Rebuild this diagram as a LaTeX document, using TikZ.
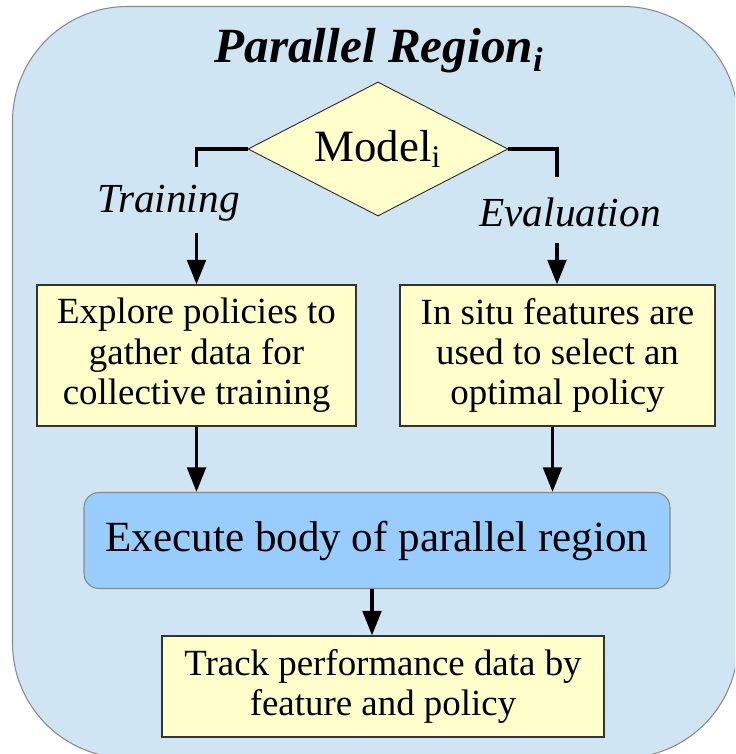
\documentclass[tikz,border=0pt]{standalone}
\usepackage{fontspec}
\setmainfont{Liberation Serif}
\usetikzlibrary{arrows.meta,positioning,calc,shapes.geometric}
\definecolor{regblue}{HTML}{CFE5F3}
\definecolor{stepyel}{HTML}{FFFFCC}
\definecolor{execblue}{HTML}{99CCFF}
\definecolor{rimgray}{HTML}{8A8A8A}

\begin{document}
\begin{tikzpicture}[
  box/.style={
    draw=black!80, line width=0.6pt, fill=stepyel,
    font=\fontsize{21}{23}\selectfont, align=center,
    minimum height=2.82cm, inner sep=0pt
  },
  choice/.style={
    diamond, aspect=2, draw=black!85, line width=0.5pt, fill=stepyel,
    minimum width=5.2cm, minimum height=2.68cm, inner sep=0pt,
    font=\fontsize{25.5}{28}\selectfont
  },
  label/.style={font=\fontsize{23.5}{25}\selectfont\itshape},
  link/.style={line width=2.2pt},
  arrow/.style={-{Triangle[length=14pt, width=10.5pt]}, line width=2.2pt},
]
  \useasboundingbox (0,0) rectangle (14.7,-15.08);
  \clip (0,0) rectangle (14.7,-15.08);

  % Region frame
  \draw[rimgray, fill=regblue, line width=0.6pt, rounded corners=2.3cm]
    (0.25,-0.13) rectangle (14.76,-15.16);
  \node[font=\fontsize{28}{30}\selectfont\bfseries\itshape] (title) at (7.58,-1.02)
    {Parallel Region\textsubscript{i}};

  % Model decision
  \node[choice] (model) at (7.56,-2.98) {Model\textsubscript{i}};

  % Two branches
  \node[box, minimum width=6.38cm] (lbox) at (3.93,-7.11)
    {Explore policies to\\gather data for\\collective training};
  \node[box, minimum width=6.3cm] (rbox) at (11.15,-7.11)
    {In situ features are\\used to select an\\optimal policy};

  \coordinate (tstub) at (3.93,-3.34);
  \coordinate (tarr)  at (3.93,-4.66);
  \coordinate (estub) at (11.14,-3.54);
  \coordinate (earr)  at (11.14,-4.86);

  \draw[link] (model.west) -| (tstub);
  \draw[link] (model.east) -| (estub);
  \node[label] (train) at (3.37,-4.06) {Training};
  \node[label] (eval)  at (11.4,-4.24) {Evaluation};
  \draw[arrow] (tarr) -- (lbox.north);
  \draw[arrow] (earr) -- (earr |- rbox.north);

  % Body of the region
  \node[draw=rimgray, line width=0.6pt, fill=execblue, rounded corners=0.3cm,
        minimum width=11.72cm, minimum height=1.92cm, inner sep=0pt,
        font=\fontsize{24.5}{26}\selectfont] (exec) at (7.54,-10.81)
    {Execute body of parallel region};
  \draw[arrow] (lbox.south) -- (lbox.south |- exec.north);
  \draw[arrow] ([xshift=-1mm]rbox.south) -- ([xshift=-1mm]rbox.south |- exec.north);

  % Bookkeeping
  \node[box, minimum width=8.84cm, minimum height=2.02cm] (trk) at (7.66,-13.73)
    {Track performance data by\\feature and policy};
  \draw[arrow] ([xshift=-1mm]exec.south) -- ([xshift=-1mm]exec.south |- trk.north);

\end{tikzpicture}
\end{document}
